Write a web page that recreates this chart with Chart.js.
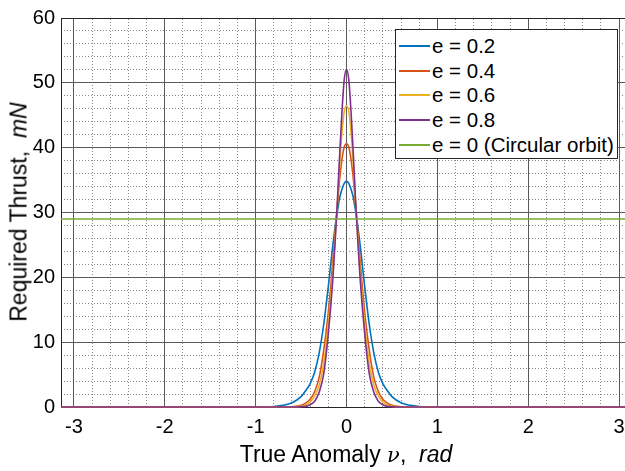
<!DOCTYPE html>
<html>
<head>
<meta charset="utf-8">
<script src="https://cdn.jsdelivr.net/npm/chart.js@4.4.1/dist/chart.umd.min.js"></script>
<style>
  html, body { margin: 0; padding: 0; background: #fff; overflow: hidden; width: 625px; height: 471px; }
  #wrap { position: relative; width: 640px; height: 471px; font-family: "Liberation Sans", Arial, Helvetica, sans-serif; color: #000; }
  #c { position: absolute; left: 0; top: 0; }
  .title { position: absolute; white-space: nowrap; font-size: 23px; line-height: 1; }
  #xt { left: 346px; top: 454px; transform: translate(-50%, -50%); }
  #yt { left: 18.5px; top: 212px; transform: translate(-50%, -50%) rotate(-90deg); }
  #legend { position: absolute; left: 395px; top: 29px; width: 221px; height: 128px; border: 1px solid #262626; background: #fff; font-size: 20.5px; }
  .item { position: absolute; left: 3px; height: 24px; display: flex; align-items: center; white-space: nowrap; }
  .sw { width: 31px; height: 0; border-top: 2px solid; margin-right: 2px; }
</style>
</head>
<body>
<div id="wrap">
  <canvas id="c" width="640" height="471"></canvas>
  <div class="title" id="xt">True Anomaly <i style="font-family:'DejaVu Serif',serif;font-size:21px">ν</i>,&nbsp;&nbsp;<i>rad</i></div>
  <div class="title" id="yt">Required Thrust,&nbsp; <i>mN</i></div>
  <div id="legend"></div>
</div>
<script>
// ---- data ----
const seriesLabels = ["e = 0.2", "e = 0.4", "e = 0.6", "e = 0.8", "e = 0 (Circular orbit)"];
const nu = [-3.14159, -1.0, -0.8, -0.7, -0.6, -0.5, -0.45, -0.4, -0.35, -0.3, -0.25, -0.2, -0.15, -0.125, -0.1, -0.075, -0.05, -0.025,
            0, 0.025, 0.05, 0.075, 0.1, 0.125, 0.15, 0.2, 0.25, 0.3, 0.35, 0.4, 0.45, 0.5, 0.6, 0.7, 0.8, 1.0, 3.14159];
const e02 = [0, 0, 0.08, 0.25, 0.65, 1.6, 2.5, 3.6, 5.4, 8.4, 12.8, 18.6, 25.0, 27.8, 30.2, 32.3, 33.6, 34.5,
             34.8, 34.5, 33.6, 32.3, 30.2, 27.8, 25.0, 18.6, 12.8, 8.4, 5.4, 3.6, 2.5, 1.6, 0.65, 0.25, 0.08, 0, 0];
const e04 = [0, 0, 0, 0, 0.05, 0.25, 0.6, 1.2, 2.4, 4.6, 8.8, 14.6, 22.5, 27.0, 31.2, 35.2, 38.2, 40.1,
             40.6, 40.1, 38.2, 35.2, 31.2, 27.0, 22.5, 14.6, 8.8, 4.6, 2.4, 1.2, 0.6, 0.25, 0.05, 0, 0, 0, 0];
const e06 = [0, 0, 0, 0, 0, 0.1, 0.3, 0.75, 1.7, 3.4, 6.8, 12.8, 21.0, 26.2, 31.5, 37.5, 42.3, 45.6,
             46.4, 45.6, 42.3, 37.5, 31.5, 26.2, 21.0, 12.8, 6.8, 3.4, 1.7, 0.75, 0.3, 0.1, 0, 0, 0, 0, 0];
const e08 = [0, 0, 0, 0, 0, 0.05, 0.1, 0.35, 0.9, 2.3, 5.2, 11.3, 19.8, 25.5, 31.8, 39.0, 45.5, 50.5,
             52.1, 50.5, 45.5, 39.0, 31.8, 25.5, 19.8, 11.3, 5.2, 2.3, 0.9, 0.35, 0.1, 0.05, 0, 0, 0, 0, 0];
const circNu = [-3.14159, 3.14159];
const circ = [29.0, 29.0];
const xTickVals = [-3, -2, -1, 0, 1, 2, 3];
const yTickVals = [0, 10, 20, 30, 40, 50, 60];
const colors = ["#0072BD", "#D95319", "#EDB120", "#7E2F8E", "#77AC30"];

const pts = (xs, ys) => xs.map((x, i) => ({ x: x, y: ys[i] }));
const curves = [e02, e04, e06, e08];
const datasets = curves.map((ys, i) => ({
  label: seriesLabels[i], data: pts(nu, ys), borderColor: colors[i], borderWidth: 1.6,
  pointRadius: 0, cubicInterpolationMode: 'monotone', fill: false, order: 5 - i, clip: 6,
  xAxisID: 'x', yAxisID: 'y'
}));
datasets.push({ label: seriesLabels[4], data: pts(circNu, circ), borderColor: colors[4], borderWidth: 1.6,
  pointRadius: 0, fill: false, order: 0, clip: 6, xAxisID: 'x', yAxisID: 'y' });

const XMIN = -Math.PI, XMAX = Math.PI;
const minorX = [], minorY = [];
for (let k = -15; k <= 15; k++) { const v = k * 0.2; if (k % 5 !== 0 && v > XMIN && v < XMAX) minorX.push(v); }
for (let v = 2; v < 60; v += 2) { if (v % 10 !== 0) minorY.push(v); }

const FONT = "'Liberation Sans', Arial, Helvetica, sans-serif";
new Chart(document.getElementById('c'), {
  type: 'line',
  data: { datasets },
  options: {
    responsive: false, animation: false, devicePixelRatio: 1,
    layout: { padding: { left: 0, right: 8, top: 17, bottom: 0 } },
    plugins: { legend: { display: false }, tooltip: { enabled: false } },
    scales: {
      xm: { type: 'linear', position: 'top', min: XMIN, max: XMAX,
        afterBuildTicks: s => { s.ticks = minorX.map(v => ({ value: v })); },
        afterFit: s => { s.height = 0; },
        ticks: { display: false },
        grid: { color: '#8c8c8c', lineWidth: 1, drawTicks: false },
        border: { display: true, color: '#262626', width: 1, dash: [1, 2] } },
      ym: { type: 'linear', position: 'right', min: 0, max: 60,
        afterBuildTicks: s => { s.ticks = minorY.map(v => ({ value: v })); },
        afterFit: s => { s.width = 0; },
        ticks: { display: false },
        grid: { color: '#8c8c8c', lineWidth: 1, drawTicks: false },
        border: { display: true, color: '#262626', width: 1, dash: [1, 2] } },
      x: { type: 'linear', position: 'bottom', min: XMIN, max: XMAX,
        afterBuildTicks: s => { s.ticks = xTickVals.map(v => ({ value: v })); },
        afterFit: s => { s.height = 64; },
        ticks: { color: '#000', padding: 8, font: { family: FONT, size: 20 }, maxRotation: 0, autoSkip: false,
                 callback: v => String(v) },
        grid: { color: '#5a5a5a', lineWidth: 1, drawTicks: false },
        border: { display: true, color: '#262626', width: 1 } },
      y: { type: 'linear', position: 'left', min: 0, max: 60,
        afterBuildTicks: s => { s.ticks = yTickVals.map(v => ({ value: v })); },
        afterFit: s => { s.width = 61; },
        ticks: { color: '#000', padding: 6, font: { family: FONT, size: 20 }, callback: v => String(v) },
        grid: { color: '#5a5a5a', lineWidth: 1, drawTicks: false },
        border: { display: true, color: '#262626', width: 1 } }
    }
  }
});

// HTML legend (text kept as real text)
const leg = document.getElementById('legend');
seriesLabels.forEach((lab, i) => {
  const it = document.createElement('div');
  it.className = 'item';
  it.style.top = (4 + i * 24.7) + 'px';
  const sw = document.createElement('span'); sw.className = 'sw'; sw.style.borderTopColor = colors[i];
  const tx = document.createElement('span'); tx.textContent = lab;
  it.appendChild(sw); it.appendChild(tx); leg.appendChild(it);
});
</script>
</body>
</html>
